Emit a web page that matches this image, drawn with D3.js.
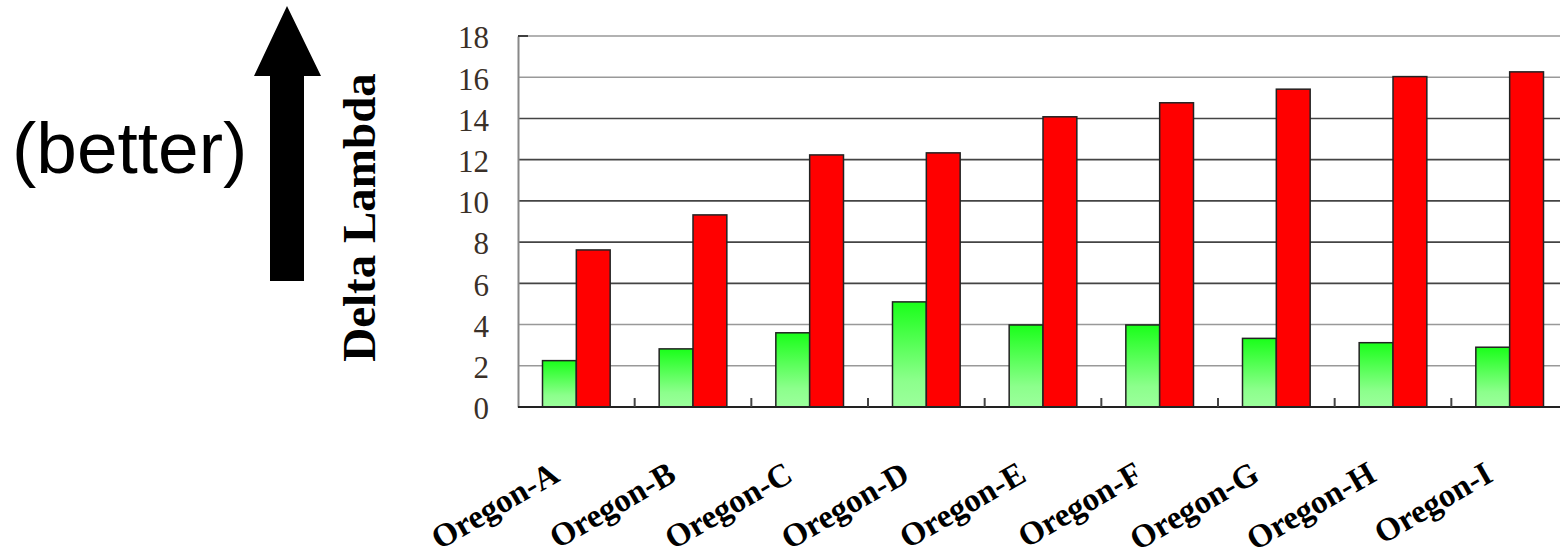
<!DOCTYPE html>
<html>
<head>
<meta charset="utf-8">
<script src="https://cdn.jsdelivr.net/npm/d3@7"></script>
<style>
  html, body { margin: 0; padding: 0; background: #fff; }
  svg { display: block; }
</style>
</head>
<body>
<svg id="chart" width="1560" height="558"></svg>
<script>
// Categories and the two series of Delta Lambda values
const categories = ["Oregon-A", "Oregon-B", "Oregon-C", "Oregon-D", "Oregon-E",
                    "Oregon-F", "Oregon-G", "Oregon-H", "Oregon-I"];
const greenValues = [2.25, 2.82, 3.6, 5.1, 3.98, 3.98, 3.33, 3.12, 2.9];
const redValues = [7.62, 9.32, 12.23, 12.33, 14.08, 14.76, 15.42, 16.03, 16.26];
const yTicks = [0, 2, 4, 6, 8, 10, 12, 14, 16, 18];

const svg = d3.select("#chart");
const margin = { left: 518, right: 1568, top: 36, bottom: 407 };

const x = d3.scaleBand().domain(categories).range([margin.left, margin.right]).paddingInner(0).paddingOuter(0);
const y = d3.scaleLinear().domain([0, 18]).range([margin.bottom, margin.top]);

const pad = 24.5;
const barW = (x.bandwidth() - 2 * pad) / 2;

// Vertical gradient for the green bars
const defs = svg.append("defs");
const grad = defs.append("linearGradient").attr("id", "greenGrad")
  .attr("x1", 0).attr("y1", 0).attr("x2", 0).attr("y2", 1);
grad.append("stop").attr("offset", "0%").attr("stop-color", "#1aff1a");
grad.append("stop").attr("offset", "75%").attr("stop-color", "#8cff8c");
grad.append("stop").attr("offset", "100%").attr("stop-color", "#9cff9c");

// Horizontal gridlines
svg.append("g")
  .selectAll("line")
  .data(yTicks.filter(d => d > 0))
  .join("line")
  .attr("x1", margin.left).attr("x2", 1560)
  .attr("y1", d => y(d)).attr("y2", d => y(d))
  .attr("stroke", d => (d >= 6 && d <= 14) ? "#444" : "#999")
  .attr("stroke-width", 1.6);

// Y axis labels
const yAxis = d3.axisLeft(y).tickValues(yTicks).tickSize(0).tickPadding(29);
const gy = svg.append("g").attr("transform", `translate(${margin.left},0)`).call(yAxis);
gy.select(".domain").attr("stroke", "#888").attr("stroke-width", 2);
gy.selectAll("text")
  .attr("font-family", "'Liberation Serif', 'Times New Roman', serif")
  .attr("font-size", 31)
  .attr("fill", "#3a3028")
  .attr("dy", "0.38em");

// small tick at the top of the value axis
svg.append("line")
  .attr("x1", margin.left).attr("x2", margin.left + 10)
  .attr("y1", y(18)).attr("y2", y(18))
  .attr("stroke", "#222").attr("stroke-width", 1.6);

// Bars
const groups = svg.append("g").selectAll("g")
  .data(categories)
  .join("g");

groups.append("rect")
  .attr("x", (d) => x(d) + pad)
  .attr("y", (d, i) => y(greenValues[i]))
  .attr("width", barW)
  .attr("height", (d, i) => y(0) - y(greenValues[i]))
  .attr("fill", "url(#greenGrad)")
  .attr("stroke", "#222").attr("stroke-width", 1.5);

groups.append("rect")
  .attr("x", (d) => x(d) + pad + barW)
  .attr("y", (d, i) => y(redValues[i]))
  .attr("width", barW)
  .attr("height", (d, i) => y(0) - y(redValues[i]))
  .attr("fill", "#ff0000")
  .attr("stroke", "#222").attr("stroke-width", 1.5);

// X axis baseline and category separators
svg.append("line")
  .attr("x1", margin.left).attr("x2", 1560)
  .attr("y1", y(0)).attr("y2", y(0))
  .attr("stroke", "#222").attr("stroke-width", 2);

svg.append("g").selectAll("line")
  .data(categories.slice(1))
  .join("line")
  .attr("x1", d => x(d)).attr("x2", d => x(d))
  .attr("y1", y(0)).attr("y2", y(0) - 9)
  .attr("stroke", "#444").attr("stroke-width", 2);

// Rotated category labels
svg.append("g").selectAll("text")
  .data(categories)
  .join("text")
  .attr("transform", d => `translate(${x(d) + x.bandwidth() / 2 - 15},${480}) rotate(-30)`)
  .attr("text-anchor", "end")
  .attr("font-family", "'Liberation Serif', 'Times New Roman', serif")
  .attr("font-weight", "bold")
  .attr("font-size", 33)
  .attr("fill", "#000")
  .text(d => d);

// Value axis title
svg.append("text")
  .attr("transform", `translate(375,${(margin.top + margin.bottom) / 2 - 4}) rotate(-90)`)
  .attr("text-anchor", "middle")
  .attr("font-family", "'Liberation Serif', 'Times New Roman', serif")
  .attr("font-weight", "bold")
  .attr("font-size", 47)
  .attr("fill", "#000")
  .text("Delta Lambda");

// "better" arrow
const arrow = d3.path();
arrow.moveTo(270, 281);
arrow.lineTo(270, 76);
arrow.lineTo(254, 76);
arrow.lineTo(287, 6);
arrow.lineTo(321, 76);
arrow.lineTo(304, 76);
arrow.lineTo(304, 281);
arrow.closePath();
svg.append("path").attr("d", arrow.toString()).attr("fill", "#000");

svg.append("text")
  .attr("x", 12).attr("y", 173)
  .attr("font-family", "'Liberation Sans', Arial, sans-serif")
  .attr("font-size", 73)
  .attr("fill", "#000")
  .text("(better)");
</script>
</body>
</html>
